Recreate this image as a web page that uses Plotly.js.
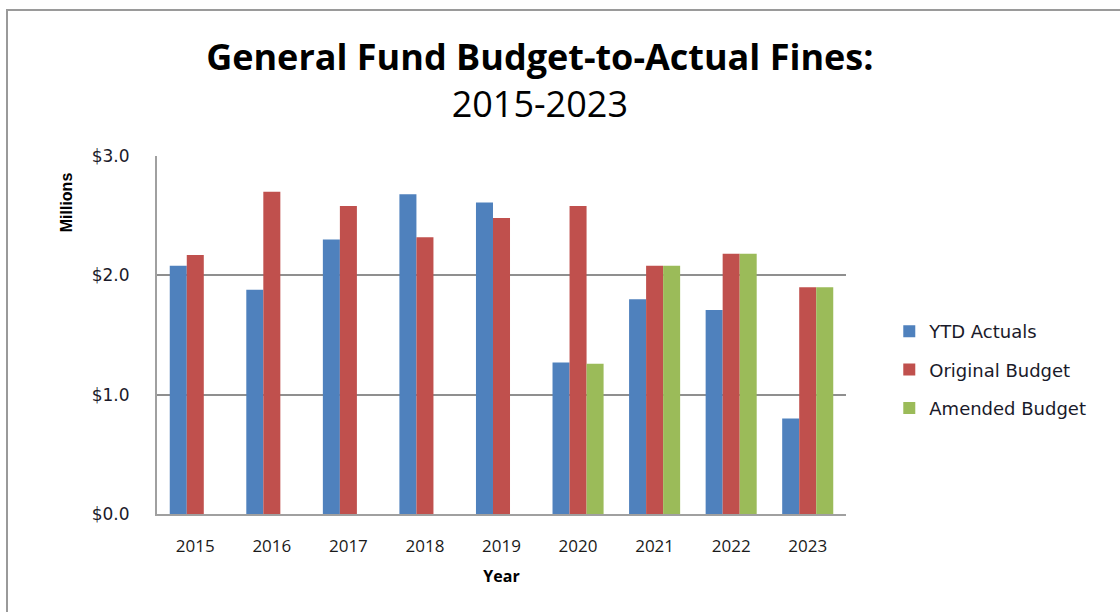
<!DOCTYPE html>
<html>
<head>
<meta charset="utf-8">
<script src="https://cdn.plot.ly/plotly-3.0.1.min.js"></script>
<style>
  html, body { margin: 0; padding: 0; background: #ffffff; }
  #wrap { position: relative; width: 1120px; height: 612px; overflow: hidden; }
  #chart { position: absolute; left: 0; top: 0; width: 1120px; height: 612px; }
  #frame { position: absolute; left: 6px; top: 9px; width: 1120px; height: 620px;
           border-left: 2px solid #9a9a9a; border-top: 2px solid #9a9a9a; pointer-events: none; }
</style>
</head>
<body>
<div id="wrap">
  <div id="chart"></div>
  <div id="frame"></div>
</div>
<script>
const years = ['2015', '2016', '2017', '2018', '2019', '2020', '2021', '2022', '2023'];
const ytdActuals = [2.08, 1.88, 2.30, 2.68, 2.61, 1.27, 1.80, 1.71, 0.80];
const originalBudget = [2.17, 2.70, 2.58, 2.32, 2.48, 2.58, 2.08, 2.18, 1.90];
const amendedBudget = [null, null, null, null, null, 1.26, 2.08, 2.18, 1.90];
const seriesNames = ['YTD Actuals', 'Original Budget', 'Amended Budget'];
const seriesColors = ['#4F81BD', '#C0504D', '#9BBB59'];
const yTicks = [0, 1, 2, 3];
const yTickText = ['$0.0', '$1.0', '$2.0', '$3.0'];

const seriesValues = [ytdActuals, originalBudget, amendedBudget];
const traces = seriesValues.map((vals, i) => ({
  type: 'bar',
  name: seriesNames[i],
  x: years,
  y: vals,
  legendgroup: 'g' + i,
  marker: { color: seriesColors[i], line: { width: 0 } },
  hoverinfo: 'x+y+name'
}));

const layout = {
  width: 1120,
  height: 612,
  paper_bgcolor: '#ffffff',
  plot_bgcolor: '#ffffff',
  margin: { l: 157, r: 274, t: 156, b: 98, pad: 0 },
  barmode: 'group',
  bargap: 0.333,
  bargroupgap: 0,
  title: {
    text: '<b>General Fund Budget-to-Actual Fines:</b><br>2015-2023',
    font: { family: 'Open Sans, Lato, sans-serif', size: 36, color: '#000000' },
    x: 0.482,
    xanchor: 'center',
    xref: 'container',
    yref: 'container',
    y: 0.885,
    yanchor: 'top'
  },
  xaxis: {
    type: 'category',
    showgrid: false,
    showline: true,
    linecolor: '#a0a0a0',
    linewidth: 2,
    ticks: '',
    ticklabelstandoff: 16,
    tickfont: { family: 'Open Sans, Lato, sans-serif', size: 17, color: '#1a1a1a' },
    title: {
      text: '<b>Year</b>',
      font: { family: 'Open Sans, Lato, sans-serif', size: 16, color: '#000000' },
      standoff: 14
    },
    fixedrange: true
  },
  yaxis: {
    range: [0, 3],
    tickmode: 'array',
    tickvals: yTicks,
    ticktext: yTickText,
    showgrid: true,
    gridcolor: '#8f8f8f',
    gridwidth: 2,
    zeroline: false,
    showline: true,
    linecolor: '#a0a0a0',
    linewidth: 2,
    ticks: '',
    ticklabelstandoff: 22,
    tickfont: { family: 'DejaVu Sans, Verdana, sans-serif', size: 17, color: '#1a1a2a' },
    fixedrange: true
  },
  annotations: [{
    text: '<b>Millions</b>',
    textangle: -90,
    xref: 'paper', yref: 'paper',
    x: -0.131, y: 0.87,
    xanchor: 'center', yanchor: 'middle',
    showarrow: false,
    font: { family: 'Liberation Sans, Arial, sans-serif', size: 16, color: '#000000' }
  }],
  showlegend: true,
  legend: {
    xref: 'container', yref: 'container',
    x: 0.794, xanchor: 'left',
    y: 1 - 313 / 612, yanchor: 'top',
    traceorder: 'grouped',
    tracegroupgap: 12,
    bgcolor: 'rgba(0,0,0,0)',
    borderwidth: 0,
    font: { family: 'DejaVu Sans, Verdana, sans-serif', size: 18, color: '#1a1a2a' }
  }
};

Plotly.newPlot('chart', traces, layout, { displayModeBar: false, staticPlot: true });
</script>
</body>
</html>
